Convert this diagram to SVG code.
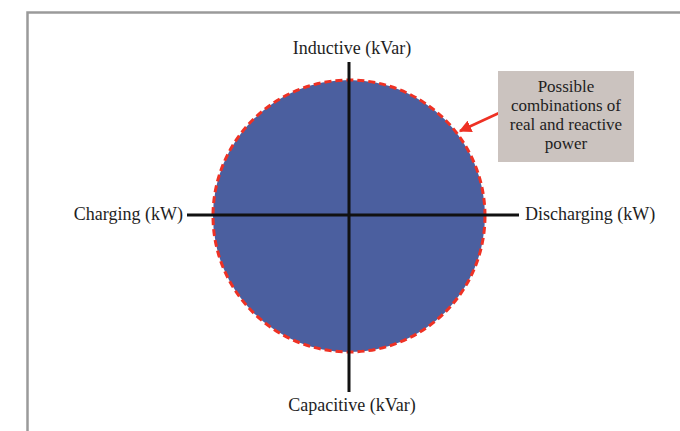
<svg xmlns="http://www.w3.org/2000/svg" width="680" height="431" viewBox="0 0 680 431">
<style>
.lbl{font-family:"Liberation Serif","Times New Roman",serif;font-size:18px;fill:#1e1e1e}
.note{font-size:17px}
.axis{stroke:#111;stroke-width:3;fill:none}
</style>
<defs>
<marker id="ah" viewBox="0 0 10 10" refX="9" refY="5" markerWidth="5" markerHeight="5" orient="auto" markerUnits="strokeWidth">
<path d="M0,0 L10,5 L0,10 z" fill="#ee3124"/>
</marker>
</defs>
<rect width="680" height="431" fill="#fff"/>
<path d="M27.5,431 V12.5 H680" fill="none" stroke="#9a9a9a" stroke-width="2.5"/>
<g id="region">
<circle cx="349" cy="216" r="136" fill="#4b5f9f" stroke="#ee3124" stroke-width="3" stroke-dasharray="7,4"/>
</g>
<g id="connectors">
<line class="axis" x1="187" y1="215" x2="519" y2="215"/>
<line class="axis" x1="349" y1="62" x2="349" y2="392"/>
<line x1="499" y1="113" x2="460" y2="131" stroke="#ee3124" stroke-width="2.5" marker-end="url(#ah)"/>
</g>
<g id="inductive"><text class="lbl" x="352" y="54" text-anchor="middle">Inductive (kVar)</text></g>
<g id="capacitive"><text class="lbl" x="352" y="411" text-anchor="middle">Capacitive (kVar)</text></g>
<g id="charging"><text class="lbl" x="183" y="220" text-anchor="end">Charging (kW)</text></g>
<g id="discharging"><text class="lbl" x="525" y="220">Discharging (kW)</text></g>
<g id="note">
<rect x="498" y="71" width="136" height="91" fill="#cbc3bf"/>
<text class="lbl note" x="566" text-anchor="middle"><tspan x="566" y="92">Possible</tspan><tspan x="566" y="111">combinations of</tspan><tspan x="566" y="130">real and reactive</tspan><tspan x="566" y="149">power</tspan></text>
</g>
</svg>
